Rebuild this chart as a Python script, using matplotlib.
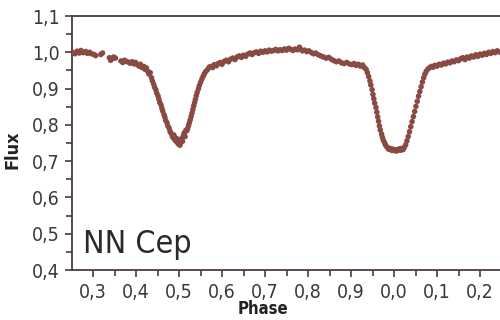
import matplotlib
matplotlib.use("Agg")
import matplotlib.pyplot as plt
from matplotlib.ticker import MultipleLocator, FixedLocator, FixedFormatter

plt.rcParams['font.family'] = ['DejaVu Sans']
plt.rcParams['font.stretch'] = 'condensed'

phase = [
    0.252, 0.258, 0.263, 0.268, 0.272, 0.277, 0.283, 0.287, 0.292, 0.296,
    0.302, 0.306, 0.318, 0.322, 0.338, 0.341, 0.344, 0.348, 0.352, 0.365,
    0.369, 0.373, 0.377, 0.382, 0.386, 0.391, 0.395, 0.399, 0.403, 0.407,
    0.410, 0.414, 0.418, 0.421, 0.424, 0.427, 0.430, 0.433, 0.436, 0.438,
    0.441, 0.443, 0.446, 0.448, 0.451, 0.453, 0.455, 0.458, 0.460, 0.462,
    0.465, 0.467, 0.469, 0.472, 0.474, 0.477, 0.479, 0.481, 0.484, 0.486,
    0.488, 0.490, 0.492, 0.494, 0.496, 0.498, 0.500, 0.502, 0.504, 0.506,
    0.508, 0.510, 0.512, 0.514, 0.516, 0.518, 0.520, 0.522, 0.524, 0.526,
    0.528, 0.530, 0.532, 0.534, 0.536, 0.538, 0.540, 0.542, 0.545, 0.547,
    0.550, 0.553, 0.556, 0.559, 0.562, 0.566, 0.570, 0.574, 0.578, 0.582,
    0.587, 0.591, 0.596, 0.600, 0.605, 0.610, 0.615, 0.620, 0.625, 0.630,
    0.635, 0.640, 0.645, 0.650, 0.655, 0.660, 0.665, 0.670, 0.675, 0.680,
    0.685, 0.690, 0.695, 0.700, 0.705, 0.710, 0.715, 0.720, 0.725, 0.730,
    0.735, 0.740, 0.745, 0.750, 0.755, 0.760, 0.765, 0.770, 0.775, 0.780,
    0.783, 0.787, 0.792, 0.797, 0.802, 0.808, 0.813, 0.818, 0.824, 0.830,
    0.836, 0.842, 0.848, 0.854, 0.860, 0.866, 0.872, 0.878, 0.884, 0.890,
    0.896, 0.902, 0.907, 0.912, 0.917, 0.922, 0.927, 0.931, 0.935, 0.938,
    0.941, 0.944, 0.946, 0.949, 0.951, 0.953, 0.955, 0.958, 0.960, 0.962,
    0.964, 0.966, 0.968, 0.971, 0.973, 0.975, 0.978, 0.980, 0.983, 0.986,
    0.988, 0.991, 0.994, 0.997, 1.000, 1.003, 1.006, 1.009, 1.012, 1.015,
    1.018, 1.021, 1.024, 1.027, 1.030, 1.033, 1.036, 1.039, 1.042, 1.045,
    1.048, 1.051, 1.054, 1.057, 1.060, 1.063, 1.066, 1.069, 1.072, 1.075,
    1.079, 1.083, 1.087, 1.091, 1.095, 1.100, 1.105, 1.110, 1.115, 1.120,
    1.125, 1.130, 1.135, 1.140, 1.145, 1.150, 1.155, 1.160, 1.165, 1.170,
    1.175, 1.180, 1.185, 1.190, 1.195, 1.200, 1.205, 1.210, 1.215, 1.220,
    1.225, 1.230, 1.235, 1.240, 1.245,
]

flux = [
    1.000, 0.996, 1.003, 0.998, 1.005, 0.999, 1.002, 0.997, 1.000, 0.996,
    0.994, 0.991, 0.994, 0.998, 0.985, 0.978, 0.982, 0.987, 0.984, 0.976,
    0.972, 0.978, 0.975, 0.973, 0.970, 0.974, 0.968, 0.972, 0.966, 0.962,
    0.967, 0.958, 0.961, 0.953, 0.957, 0.948, 0.940, 0.944, 0.930, 0.921,
    0.912, 0.904, 0.897, 0.888, 0.880, 0.871, 0.862, 0.855, 0.846, 0.838,
    0.828, 0.821, 0.812, 0.806, 0.797, 0.791, 0.782, 0.778, 0.770, 0.765,
    0.772, 0.760, 0.756, 0.763, 0.752, 0.748, 0.758, 0.744, 0.751, 0.762,
    0.755, 0.770, 0.778, 0.768, 0.785, 0.784, 0.790, 0.798, 0.806, 0.814,
    0.823, 0.832, 0.842, 0.852, 0.861, 0.870, 0.880, 0.889, 0.899, 0.908,
    0.917, 0.926, 0.934, 0.941, 0.947, 0.952, 0.959, 0.961, 0.958, 0.966,
    0.963, 0.969, 0.972, 0.967, 0.975, 0.978, 0.974, 0.981, 0.984, 0.980,
    0.987, 0.990, 0.986, 0.992, 0.989, 0.995, 0.998, 0.994, 0.999, 1.001,
    0.997, 1.003, 1.000, 1.004, 1.001, 1.006, 1.003, 1.005, 1.008, 1.004,
    1.007, 1.005, 1.009, 1.006, 1.011, 1.008, 1.005, 1.009, 1.007, 1.014,
    1.008, 1.004, 1.006, 1.002, 1.004, 0.999, 0.996, 0.998, 0.993, 0.990,
    0.987, 0.984, 0.986, 0.981, 0.977, 0.974, 0.976, 0.971, 0.969, 0.972,
    0.968, 0.966, 0.969, 0.964, 0.967, 0.962, 0.965, 0.958, 0.953, 0.944,
    0.933, 0.921, 0.910, 0.897, 0.884, 0.872, 0.860, 0.848, 0.835, 0.822,
    0.810, 0.797, 0.786, 0.775, 0.766, 0.758, 0.751, 0.745, 0.740, 0.736,
    0.733, 0.735, 0.730, 0.733, 0.729, 0.732, 0.728, 0.731, 0.734, 0.730,
    0.735, 0.732, 0.738, 0.745, 0.756, 0.768, 0.781, 0.795, 0.809, 0.823,
    0.837, 0.851, 0.865, 0.879, 0.892, 0.905, 0.918, 0.930, 0.940, 0.948,
    0.954, 0.958, 0.961, 0.959, 0.964, 0.962, 0.967, 0.965, 0.970, 0.968,
    0.973, 0.971, 0.976, 0.974, 0.979, 0.977, 0.982, 0.985, 0.980, 0.987,
    0.984, 0.990, 0.987, 0.993, 0.989, 0.995, 0.992, 0.997, 0.994, 1.000,
    0.997, 1.002, 0.999, 1.004, 1.001,
]

xtick_pos = [0.3, 0.4, 0.5, 0.6, 0.7, 0.8, 0.9, 1.0, 1.1, 1.2]
xtick_lab = ["0,3", "0,4", "0,5", "0,6", "0,7", "0,8", "0,9", "0,0", "0,1", "0,2"]
ytick_pos = [0.4, 0.5, 0.6, 0.7, 0.8, 0.9, 1.0, 1.1]
ytick_lab = ["0,4", "0,5", "0,6", "0,7", "0,8", "0,9", "1,0", "1,1"]

axis_col = "#4a3c38"
pt_col = "#8a4a44"
txt_col = "#3a3a3a"

fig = plt.figure(figsize=(5, 3.2), dpi=100)
ax = fig.add_axes([0.144, 0.156, 0.856, 0.794])

ax.scatter(phase, flux, s=16, color=pt_col, edgecolors="none", zorder=3)

ax.set_xlim(0.251, 1.2465)
ax.set_ylim(0.4, 1.1)

ax.xaxis.set_major_locator(FixedLocator(xtick_pos))
ax.xaxis.set_major_formatter(FixedFormatter(xtick_lab))
ax.xaxis.set_minor_locator(MultipleLocator(0.05))
ax.yaxis.set_major_locator(FixedLocator(ytick_pos))
ax.yaxis.set_major_formatter(FixedFormatter(ytick_lab))
ax.yaxis.set_minor_locator(MultipleLocator(0.05))

for s in ["left", "bottom", "top"]:
    ax.spines[s].set_color(axis_col)
    ax.spines[s].set_linewidth(1.3)
ax.spines["right"].set_visible(False)

ax.tick_params(which="both", direction="out", color=axis_col, width=1.2)
ax.tick_params(which="major", length=5, labelsize=14, labelcolor=txt_col)
ax.tick_params(which="minor", length=4)
ax.tick_params(axis="x", which="major", pad=4)
ax.tick_params(axis="y", which="major", pad=4)

ax.set_xlabel("Phase", fontsize=12, fontweight="bold", color="#222222", va="center")
ax.xaxis.set_label_coords(0.446, -0.153)
ax.set_ylabel("Flux", fontsize=13, fontweight="bold", color="#222222")
ax.yaxis.set_label_coords(-0.117, 0.475)

ax.text(0.026, 0.067, "NN Cep", transform=ax.transAxes, fontsize=23,
        color="#2a2a2a", va="baseline", ha="left")

fig.savefig("out.png", dpi=100)
